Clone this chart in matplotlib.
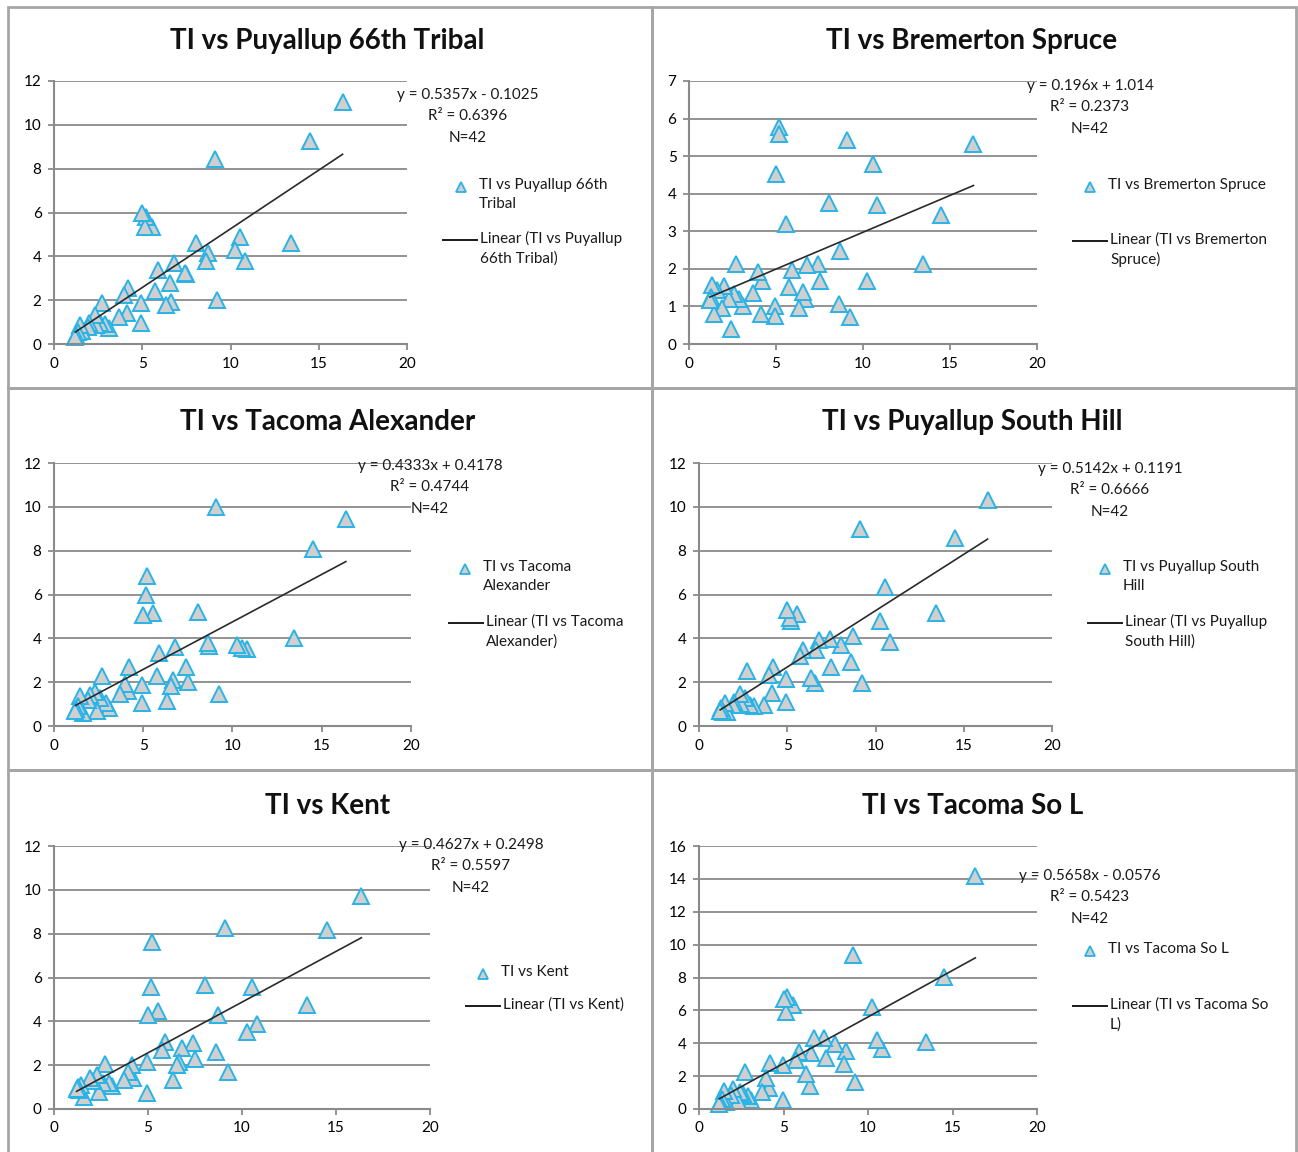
import numpy as np
import matplotlib
matplotlib.use("Agg")
import matplotlib.pyplot as plt
from matplotlib.patches import Rectangle

plt.rcParams['font.family'] = ['Lato', 'DejaVu Sans']

W, H = 1298, 1152

# TI values (shared x for every panel)
ti = [16.35, 14.5, 13.45, 10.8, 10.55, 10.25, 9.25, 9.1, 8.7, 8.6, 8.05,
      7.5, 7.4, 6.8, 6.65, 6.55, 6.35, 5.9, 5.75, 5.55, 5.2, 5.15, 5.0,
      4.95, 4.95, 4.2, 4.15, 3.95, 3.7, 3.1, 2.9, 2.7, 2.6, 2.4, 2.3, 2.0,
      1.9, 1.6, 1.45, 1.35, 1.25, 1.2]

puyallup_66th = [11.05, 9.26, 4.59, 3.8, 4.86, 4.29, 2.0, 8.42, 4.13, 3.8, 4.59,
                 3.19, 3.22, 3.68, 1.93, 2.8, 1.78, 3.37, 2.43, 5.32, 5.8, 5.32, 5.96,
                 1.85, 0.97, 2.55, 1.40, 2.25, 1.25, 0.71, 0.9, 1.85, 0.94, 0.87, 1.32, 0.97,
                 0.79, 0.6, 0.87, 0.56, 0.41, 0.3]
bremerton = [5.31, 3.43, 2.14, 3.69, 4.80, 1.68, 0.71, 5.44, 2.48, 1.06, 3.74,
             1.68, 2.14, 2.10, 1.19, 1.39, 0.95, 1.97, 1.52, 3.19, 5.78, 5.58, 4.53,
             1.01, 0.74, 1.68, 0.81, 1.92, 1.36, 1.01, 1.19, 2.14, 1.33, 0.39, 1.19, 1.54,
             0.95, 1.43, 0.81, 1.57, 1.25, 1.17]
tacoma_alex = [9.46, 8.07, 4.03, 3.53, 3.57, 3.68, 1.44, 9.97, 3.65, 3.8, 5.2,
               2.02, 2.67, 3.62, 2.1, 1.82, 1.14, 3.34, 2.29, 5.17, 6.84, 6.0, 5.08,
               1.85, 1.06, 2.67, 1.6, 1.9, 1.44, 0.84, 1.06, 2.29, 1.29, 0.68, 1.55, 1.4,
               1.2, 0.6, 1.37, 0.9, 0.76, 0.7]
south_hill = [10.3, 8.6, 5.14, 3.84, 6.32, 4.8, 1.95, 9.0, 4.1, 2.94, 3.69,
              2.71, 3.99, 3.92, 3.47, 1.95, 2.19, 3.47, 3.19, 5.11, 4.77, 4.95, 5.3,
              2.16, 1.11, 2.71, 1.52, 2.33, 0.96, 0.91, 0.95, 2.49, 1.26, 1.0, 1.46, 1.1,
              0.96, 0.65, 1.03, 0.65, 0.8, 0.7]
kent = [9.71, 8.16, 4.74, 3.86, 5.58, 3.5, 1.67, 8.27, 4.29, 2.61, 5.65,
        2.28, 2.99, 2.77, 2.15, 2.0, 1.32, 3.07, 2.69, 4.47, 7.63, 5.58, 4.29,
        2.13, 0.71, 1.40, 2.0, 1.70, 1.32, 1.06, 1.2, 2.04, 1.17, 0.79, 1.55, 1.3,
        1.40, 0.56, 1.09, 0.87, 1.0, 0.9]
tacoma_sol = [14.17, 8.04, 4.05, 3.68, 4.19, 6.21, 1.66, 9.35, 3.52, 2.71, 3.93,
              3.12, 4.29, 4.29, 3.38, 1.42, 2.1, 3.44, 2.98, 6.32, 6.82, 5.91, 6.68,
              2.67, 0.55, 2.77, 1.25, 1.9, 1.05, 0.55, 0.8, 2.23, 0.9, 1.05, 0.5, 1.2,
              0.85, 0.4, 1.09, 0.6, 0.45, 0.3]

# fitted trend lines as printed on the chart
slopes = [0.5357, 0.196, 0.4333, 0.5142, 0.4627, 0.5658]
intercepts = [-0.1025, 1.014, 0.4178, 0.1191, 0.2498, -0.0576]
eq_texts = ["y = 0.5357x - 0.1025", "y = 0.196x + 1.014", "y = 0.4333x + 0.4178",
            "y = 0.5142x + 0.1191", "y = 0.4627x + 0.2498", "y = 0.5658x - 0.0576"]
r2_texts = ["R² = 0.6396", "R² = 0.2373", "R² = 0.4744",
            "R² = 0.6666", "R² = 0.5597", "R² = 0.5423"]
titles = ["TI vs Puyallup 66th Tribal", "TI vs Bremerton Spruce", "TI vs Tacoma Alexander",
          "TI vs Puyallup South Hill", "TI vs Kent", "TI vs Tacoma So L"]
series_labels = ["TI vs Puyallup 66th\nTribal", "TI vs Bremerton Spruce", "TI vs Tacoma\nAlexander",
                 "TI vs Puyallup South\nHill", "TI vs Kent", "TI vs Tacoma So L"]
linear_labels = ["Linear (TI vs Puyallup\n66th Tribal)", "Linear (TI vs Bremerton\nSpruce)",
                 "Linear (TI vs Tacoma\nAlexander)", "Linear (TI vs Puyallup\nSouth Hill)",
                 "Linear (TI vs Kent)", "Linear (TI vs Tacoma So\nL)"]
series = [puyallup_66th, bremerton, tacoma_alex, south_hill, kent, tacoma_sol]
ymax = [12, 7, 12, 12, 12, 16]
ystep = [2, 1, 2, 2, 2, 2]

# layout in pixels: plot box (x0, y0, x1, y1), title centre, equation centre, legend anchors
boxes = [(54, 81, 407, 344), (689, 81, 1037, 344), (54, 463, 411, 726),
         (699, 463, 1052, 726), (54, 846, 430, 1109), (699, 846, 1037, 1109)]
title_pos = [(327, 41), (972, 41), (328, 422), (972, 422), (328, 806), (973, 806)]
eq_pos = [(468, 95), (1090, 86), (430, 466), (1110, 469), (471, 845), (1090, 876)]
leg_marker = [(461, 187), (1090, 187), (465, 569), (1105, 569), (483, 974), (1090, 951)]
leg_line = [(443, 240), (1073, 241), (449, 623), (1088, 623), (466, 1006), (1073, 1006)]
frames = [(8, 7, 652, 388), (652, 7, 1296, 388), (8, 388, 652, 770),
          (652, 388, 1296, 770), (8, 770, 652, 1160), (652, 770, 1296, 1160)]

grid_c = '#8a8a8a'
edge_c = '#29b3e6'
face_c = '#cfcfcf'
txt_c = '#1a1a1a'

fig = plt.figure(figsize=(W / 100, H / 100), dpi=100)
fig.patch.set_facecolor('white')

x = np.array(ti)
for i in range(6):
    x0, y0, x1, y1 = boxes[i]
    ax = fig.add_axes([x0 / W, 1 - y1 / H, (x1 - x0) / W, (y1 - y0) / H])
    ax.set_xlim(0, 20)
    ax.set_ylim(0, ymax[i])
    ax.set_xticks(range(0, 21, 5))
    ax.set_yticks(range(0, ymax[i] + 1, ystep[i]))
    ax.grid(axis='y', color=grid_c, lw=1.3)
    ax.set_axisbelow(True)
    for s in ['top', 'right']:
        ax.spines[s].set_visible(False)
    for s in ['left', 'bottom']:
        ax.spines[s].set_color(grid_c)
        ax.spines[s].set_linewidth(1.5)
    ax.tick_params(direction='out', length=4, width=1.3, color=grid_c,
                   labelsize=11, pad=5)
    ax.plot(x, series[i], ls='none', marker='^', ms=11, mfc=face_c, mec=edge_c,
            mew=1.4, zorder=2, clip_on=False)
    xl = np.array([x.min(), x.max()])
    ax.plot(xl, slopes[i] * xl + intercepts[i], color='#2a2a2a', lw=1.2, zorder=3)

# overlay in pixel coordinates for titles, labels and legends
ov = fig.add_axes([0, 0, 1, 1], zorder=5)
ov.set_xlim(0, W)
ov.set_ylim(H, 0)
ov.axis('off')
ov.patch.set_alpha(0)

for i in range(6):
    fx0, fy0, fx1, fy1 = frames[i]
    ov.add_patch(Rectangle((fx0, fy0), fx1 - fx0, fy1 - fy0, fill=False,
                           ec='#a6a6a6', lw=2, clip_on=False))
    tx, ty = title_pos[i]
    ov.text(tx, ty, titles[i], ha='center', va='center', fontsize=20,
            fontweight='bold', color='#111111')
    ex, ey = eq_pos[i]
    ov.text(ex, ey, eq_texts[i], ha='center', va='center', fontsize=11, color=txt_c)
    ov.text(ex, ey + 21, r2_texts[i], ha='center', va='center', fontsize=11, color=txt_c)
    ov.text(ex, ey + 43, "N=42", ha='center', va='center', fontsize=11, color=txt_c)
    mx, my = leg_marker[i]
    ov.plot([mx], [my], marker='^', ms=7, mfc=face_c, mec=edge_c, mew=1.3, ls='none')
    ov.text(mx + 18, my - 9, series_labels[i], ha='left', va='top', fontsize=11,
            color=txt_c, linespacing=1.5)
    lx, ly = leg_line[i]
    ov.plot([lx, lx + 34], [ly, ly], color=txt_c, lw=1.4)
    ov.text(lx + 37, ly - 9, linear_labels[i], ha='left', va='top', fontsize=11,
            color=txt_c, linespacing=1.5)

fig.savefig('out.png', dpi=100)
